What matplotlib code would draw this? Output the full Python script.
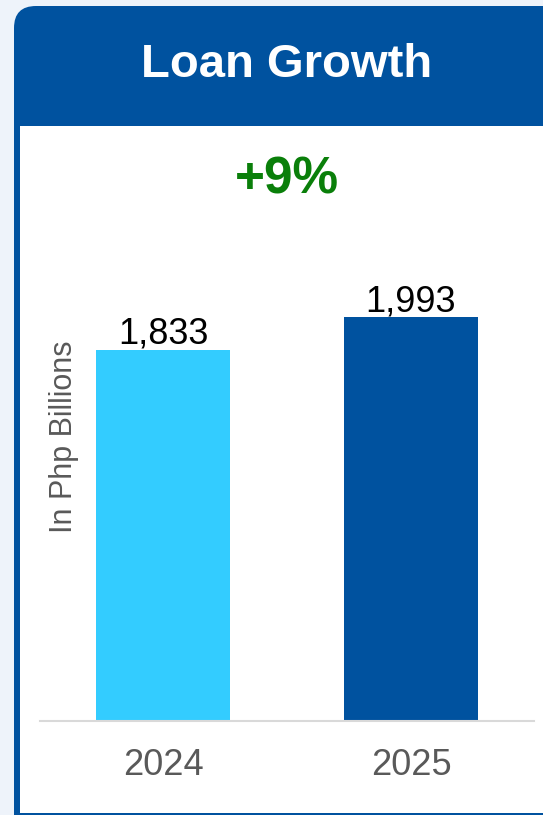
import matplotlib
matplotlib.use('Agg')
import matplotlib.pyplot as plt
import matplotlib as mpl
from matplotlib.patches import FancyBboxPatch, Rectangle

mpl.rcParams.update({
    'font.family': 'sans-serif',
    'font.sans-serif': ['Liberation Sans', 'DejaVu Sans'],
})

# data
years = ['2024', '2025']
loans = [1833, 1993]
bar_colors = ['#33ccff', '#00529f']
growth_label = '+9%'
title = 'Loan Growth'
ylabel = 'In Php Billions'

W, H = 543, 815
navy = '#00529f'

fig = plt.figure(figsize=(W / 100, H / 100), dpi=100)
fig.patch.set_facecolor('#eef3fa')

# background layer in pixel coords
bg = fig.add_axes([0, 0, 1, 1])
bg.set_xlim(0, W)
bg.set_ylim(H, 0)
bg.axis('off')
bg.add_patch(FancyBboxPatch((14, 6), 700, 200, boxstyle='round,pad=0,rounding_size=22',
                            facecolor=navy, edgecolor='none'))
bg.add_patch(Rectangle((14, 100), 700, 715, facecolor=navy, edgecolor='none'))
bg.add_patch(Rectangle((20, 126), 700, 687, facecolor='white', edgecolor='none'))
bg.text(287, 65, title, color='white', fontsize=34, fontweight='bold',
        ha='center', va='center')
bg.text(287, 180, growth_label, color='#0a7f0a', fontsize=37, fontweight='bold',
        ha='center', va='center')

# chart
ax_left, ax_right = 40, 534
ax_top, ax_bottom = 220, 720.7
ax = fig.add_axes([ax_left / W, (H - ax_bottom) / H,
                   (ax_right - ax_left) / W, (ax_bottom - ax_top) / H])
ax.patch.set_alpha(0)
x = range(len(years))
bars = ax.bar(x, loans, color=bar_colors, width=0.54)
ax.set_xlim(-0.496, 1.496)
ax.set_ylim(0, (ax_bottom - ax_top) / 0.2024)

for b, v in zip(bars, loans):
    ax.annotate(f'{v:,}', (b.get_x() + b.get_width() / 2, v),
                xytext=(0, 4.2), textcoords='offset points',
                ha='center', va='baseline', fontsize=26, color='black')

ax.set_xticks(list(x))
ax.set_xticklabels(years, fontsize=26, color='#595959')
ax.tick_params(axis='x', length=0, pad=20)
ax.set_yticks([])
for s in ['top', 'right', 'left']:
    ax.spines[s].set_visible(False)
ax.spines['bottom'].set_color('#d9d9d9')
ax.spines['bottom'].set_linewidth(1.5)

ax.set_ylabel(ylabel, fontsize=22, color='#595959')
ax.yaxis.set_label_coords((79 - ax_left) / (ax_right - ax_left),
                          (ax_bottom - 437) / (ax_bottom - ax_top))

plt.savefig('out.png', dpi=100)
plt.close()
